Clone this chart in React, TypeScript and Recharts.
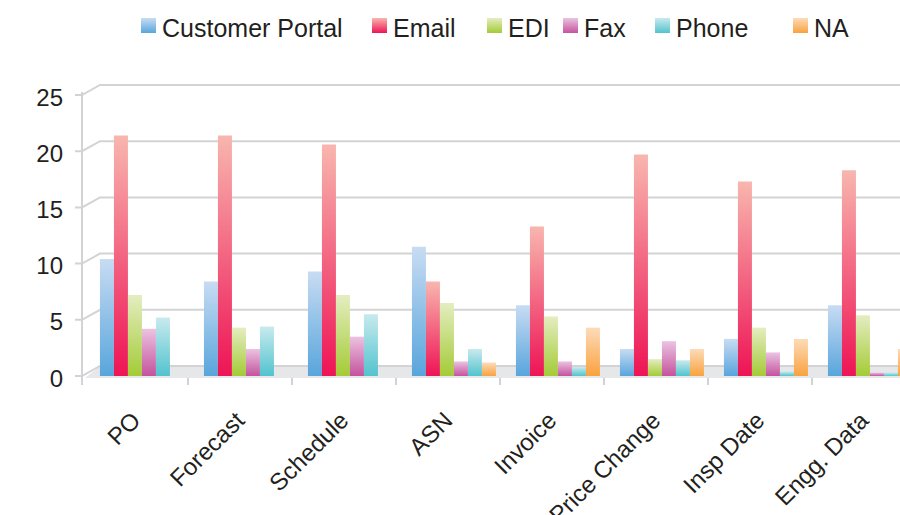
import React from 'react';
import { BarChart, Bar, XAxis, YAxis, CartesianGrid } from 'recharts';

const categories = ['PO', 'Forecast', 'Schedule', 'ASN', 'Invoice', 'Price Change', 'Insp Date', 'Engg. Data'];
const customerPortal = [10.4, 8.4, 9.3, 11.5, 6.3, 2.4, 3.3, 6.3];
const email = [21.4, 21.4, 20.6, 8.4, 13.3, 19.7, 17.3, 18.3];
const edi = [7.2, 4.3, 7.2, 6.5, 5.3, 1.5, 4.3, 5.4];
const fax = [4.2, 2.4, 3.5, 1.3, 1.3, 3.1, 2.1, 0.3];
const phone = [5.2, 4.4, 5.5, 2.4, 0.8, 1.4, 0.4, 0.3];
const na = [0, 0, 0, 1.2, 4.3, 2.4, 3.3, 2.4];
const seriesNames = ['Customer Portal', 'Email', 'EDI', 'Fax', 'Phone', 'NA'];
const yTicks = [0, 5, 10, 15, 20, 25];

const seriesKeys = ['cp', 'email', 'edi', 'fax', 'phone', 'na'];
const seriesValues = [customerPortal, email, edi, fax, phone, na];
// light (top) / strong (bottom) colour per series
const gradients = [
  ['#c8dcf3', '#58a5dc'],
  ['#f8b6ae', '#ee1455'],
  ['#e4edc0', '#a4cb36'],
  ['#ebc3e1', '#c4539d'],
  ['#c8eaee', '#52c3ce'],
  ['#fddbb8', '#f9a23f'],
];
const legendX = [141, 372, 487, 563, 655, 793];

const data = categories.map((name, i) => {
  const row: Record<string, string | number> = { name };
  seriesKeys.forEach((k, s) => (row[k] = seriesValues[s][i]));
  return row;
});

const FONT = 'Arial, "Liberation Sans", Helvetica, sans-serif';
const TEXT = '#231f20';
const GRID = '#d3d3d5';
const CHART_W = 940;
const CHART_H = 515;
const PLOT_TOP = 95;
const X_AXIS_H = 139;
const PLOT_BOTTOM = CHART_H - X_AXIS_H;
const DEPTH_X = 18;
const DEPTH_Y = 10;
const SHIFT = 7; // bars sit a little deeper than the front axis

const gridLine = (p: any) => {
  const { x1, y1, x2 } = p;
  const ax = x1 - SHIFT - 2;
  const isFloor = Math.abs(y1 - PLOT_BOTTOM) < 1;
  return (
    <g key={p.key ?? `g-${p.index}`}>
      {isFloor && (
        <>
          <polygon
            points={`${ax + 3},${y1 + 2} ${ax + DEPTH_X},${y1 - DEPTH_Y} ${x2 + 40},${y1 - DEPTH_Y} ${x2 + 40},${y1 + 2}`}
            fill="#e6e7e8"
          />
          <line x1={ax} y1={PLOT_TOP - 3} x2={ax} y2={y1 + 9} stroke={GRID} strokeWidth={2} />
        </>
      )}
      <polyline
        points={`${ax - 7},${y1} ${ax},${y1} ${ax + DEPTH_X},${y1 - DEPTH_Y} ${x2 + 40},${y1 - DEPTH_Y}`}
        fill="none"
        stroke={GRID}
        strokeWidth={2}
      />
    </g>
  );
};

const XTick = (p: any) => {
  const { x, y, payload, index } = p;
  const band = (CHART_W - 17 - 91) / categories.length;
  const bx = x + band / 2 - SHIFT;
  const lx = x - 1;
  const ly = y + 46;
  return (
    <g>
      {index < categories.length - 1 && (
        <line x1={bx} y1={y + 2} x2={bx} y2={y + 9} stroke={GRID} strokeWidth={2} />
      )}
      <text
        x={lx}
        y={ly}
        textAnchor="end"
        transform={`rotate(-45 ${lx} ${ly})`}
        fontSize={24}
        fontFamily={FONT}
        fill={TEXT}
      >
        {payload.value}
      </text>
    </g>
  );
};

export default function App() {
  return (
    <div style={{ position: 'absolute', left: 0, top: 0, width: 900, height: 515, overflow: 'hidden', background: '#fff' }}>
      {seriesNames.map((n, i) => (
        <React.Fragment key={n}>
          <div
            style={{
              position: 'absolute',
              left: legendX[i],
              top: 18,
              width: 15,
              height: 15,
              background: `linear-gradient(${gradients[i][0]}, ${gradients[i][1]})`,
            }}
          />
          <div
            style={{
              position: 'absolute',
              left: legendX[i] + 21,
              top: 16,
              fontSize: 25,
              lineHeight: '25px',
              fontFamily: FONT,
              color: TEXT,
              whiteSpace: 'nowrap',
            }}
          >
            {n}
          </div>
        </React.Fragment>
      ))}
      <BarChart
        width={CHART_W}
        height={CHART_H}
        data={data}
        margin={{ top: PLOT_TOP, right: 17, bottom: 0, left: 0 }}
        barCategoryGap="8.6%"
        barGap={0}
        style={{ position: 'absolute', left: 0, top: 0 }}
      >
        <defs>
          {gradients.map((g, i) => (
            <linearGradient key={i} id={`grad-${seriesKeys[i]}`} x1="0" y1="0" x2="0" y2="1">
              <stop offset="0%" stopColor={g[0]} />
              <stop offset="100%" stopColor={g[1]} />
            </linearGradient>
          ))}
        </defs>
        <CartesianGrid vertical={false} horizontal={gridLine} />
        <XAxis
          dataKey="name"
          axisLine={false}
          tickLine={false}
          tickSize={0}
          tickMargin={0}
          height={X_AXIS_H}
          interval={0}
          tick={<XTick />}
        />
        <YAxis
          domain={[0, 25]}
          ticks={yTicks}
          axisLine={false}
          tickLine={false}
          tickSize={0}
          tickMargin={28}
          width={91}
          tick={{ fontSize: 24, fontFamily: FONT, fill: TEXT, dy: 2 }}
        />
        {seriesKeys.map((k) => (
          <Bar key={k} dataKey={k} fill={`url(#grad-${k})`} isAnimationActive={false} />
        ))}
      </BarChart>
    </div>
  );
}
